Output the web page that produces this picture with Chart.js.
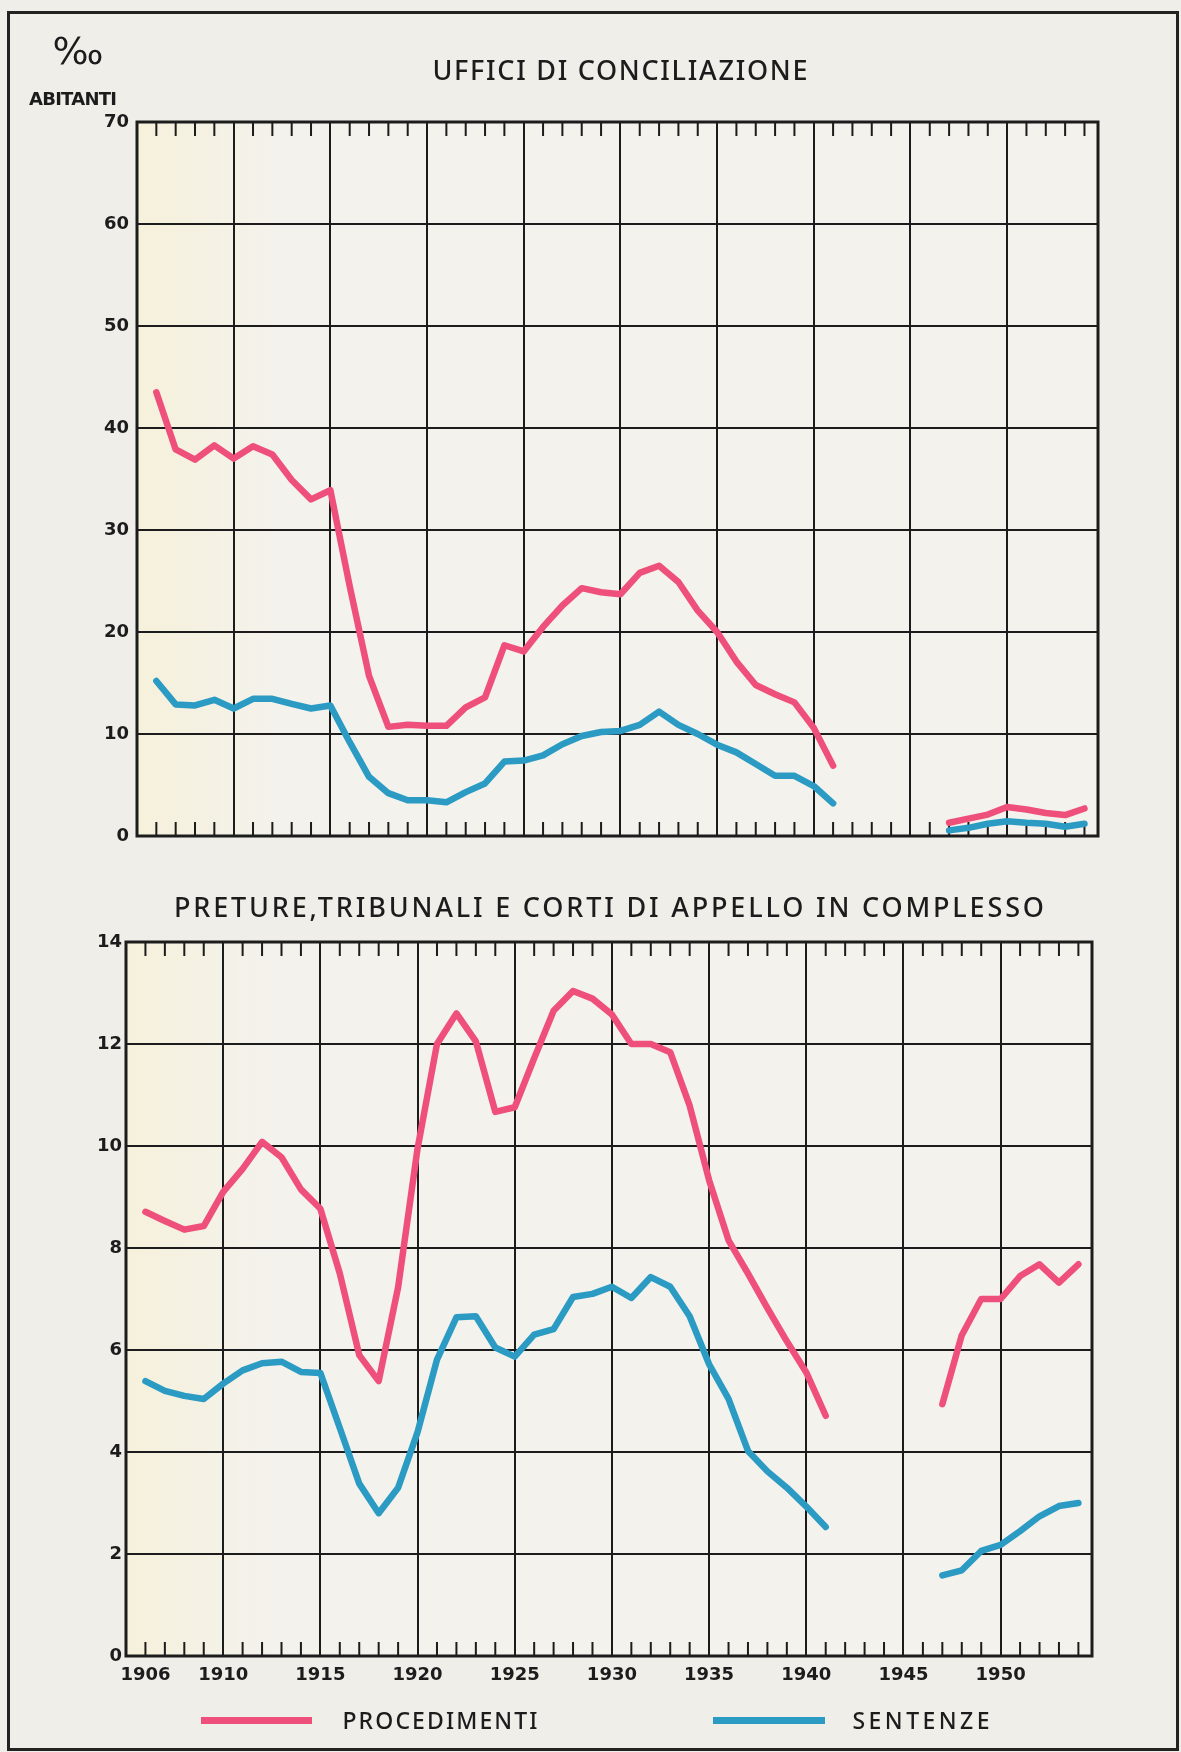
<!DOCTYPE html>
<html>
<head>
<meta charset="utf-8">
<script src="https://cdn.jsdelivr.net/npm/chart.js@4.4.0/dist/chart.umd.min.js"></script>
<style>
html,body{margin:0;padding:0;background:#efeee9;}
body{width:1181px;height:1752px;position:relative;overflow:hidden;font-family:"DejaVu Sans",sans-serif;color:#1c1c1c;}
.frame{position:absolute;left:7px;top:11px;width:1166px;height:1734px;border:3px solid #222;box-sizing:content-box;}
.abs{position:absolute;white-space:nowrap;line-height:1.2;}
.title{font-family:"Noto Sans",sans-serif;font-size:27px;font-weight:500;}
.leg{font-family:"Noto Sans",sans-serif;font-size:23px;font-weight:500;}
.sw{position:absolute;height:7px;}
canvas{position:absolute;left:0;}
</style>
</head>
<body>
<div class="frame"></div>
<canvas id="chartA" width="1181" height="880" style="top:0;width:1181px;height:880px"></canvas>
<canvas id="chartB" width="1181" height="872" style="top:880px;width:1181px;height:872px"></canvas>

<div class="abs" id="permille" style="font-size:38px;">&#8240;</div>
<div class="abs" id="abitanti" style="font-size:18px;font-weight:bold;">ABITANTI</div>
<div class="abs title" id="titleA">UFFICI DI CONCILIAZIONE</div>
<div class="abs title" id="titleB">PRETURE,TRIBUNALI E CORTI DI APPELLO IN COMPLESSO</div>

<div class="sw" id="swRed" style="left:201px;top:1717px;width:111px;"></div>
<div class="abs leg" id="legRed">PROCEDIMENTI</div>
<div class="sw" id="swBlue" style="left:713px;top:1717px;width:112px;"></div>
<div class="abs leg" id="legBlue">SENTENZE</div>

<script>
// ---------- DATA ----------
const years = [1906,1907,1908,1909,1910,1911,1912,1913,1914,1915,1916,1917,1918,1919,1920,
  1921,1922,1923,1924,1925,1926,1927,1928,1929,1930,1931,1932,1933,1934,1935,1936,1937,1938,1939,1940,
  1941,1942,1943,1944,1945,1946,1947,1948,1949,1950,1951,1952,1953,1954];

// Uffici di conciliazione (per mille abitanti)
const concProcedimenti = [43.5,37.9,36.9,38.3,37.0,38.2,37.4,34.9,33.0,33.9,24.5,15.7,10.7,10.9,10.8,
  10.8,12.6,13.6,18.7,18.1,20.5,22.6,24.3,23.9,23.7,25.8,26.5,24.9,22.1,20.0,17.1,14.8,13.9,13.1,10.6,
  6.9,null,null,null,null,null,1.3,1.7,2.1,2.85,2.6,2.25,2.05,2.7];
const concSentenze = [15.2,12.9,12.8,13.35,12.5,13.45,13.45,12.95,12.5,12.8,9.2,5.8,4.2,3.5,3.5,
  3.3,4.3,5.15,7.3,7.4,7.9,9.0,9.8,10.2,10.3,10.9,12.2,10.9,10.0,8.95,8.2,7.05,5.9,5.9,4.9,
  3.2,null,null,null,null,null,0.55,0.8,1.2,1.45,1.3,1.2,0.9,1.2];

// Preture, tribunali e corti di appello in complesso
const pretProcedimenti = [8.71,8.53,8.36,8.43,9.1,9.55,10.08,9.78,9.15,8.77,7.5,5.9,5.39,7.23,9.95,
  12.0,12.6,12.05,10.67,10.76,11.72,12.65,13.04,12.89,12.58,12.0,12.0,11.84,10.79,9.33,8.15,7.5,6.82,6.17,5.56,
  4.71,null,null,null,null,null,4.94,6.29,7.0,7.0,7.45,7.68,7.32,7.68];
const pretSentenze = [5.39,5.2,5.1,5.04,5.34,5.6,5.74,5.77,5.57,5.55,4.47,3.38,2.8,3.3,4.39,
  5.81,6.64,6.66,6.05,5.87,6.3,6.41,7.04,7.1,7.24,7.02,7.43,7.24,6.66,5.72,5.04,4.02,3.62,3.3,2.93,
  2.53,null,null,null,null,null,1.58,1.68,2.06,2.18,2.45,2.74,2.94,3.0];

const xTickLabels = [1906,1910,1915,1920,1925,1930,1935,1940,1945,1950];
const yTicksA = [0,10,20,30,40,50,60,70];
const yTicksB = [0,2,4,6,8,10,12,14];
const seriesNames = ['PROCEDIMENTI','SENTENZE'];

// ---------- STYLE ----------
const RED = '#ef4f7b';
const BLUE = '#2b9bc4';
const INK = '#1c1c1c';
Chart.defaults.font.family = '"DejaVu Sans", sans-serif';
Chart.defaults.color = INK;

const bgPlugin = {
  id: 'plotBg',
  beforeDraw(chart) {
    const {ctx, chartArea: a} = chart;
    const g = ctx.createLinearGradient(a.left, 0, a.left + 150, 0);
    g.addColorStop(0, '#f6f1db');
    g.addColorStop(1, '#f3f2ed');
    ctx.save();
    ctx.fillStyle = g;
    ctx.fillRect(a.left, a.top, a.right - a.left, a.bottom - a.top);
    ctx.restore();
  }
};
const framePlugin = {
  id: 'plotFrame',
  beforeDatasetsDraw(chart) {
    const {ctx, chartArea: a} = chart;
    const x = chart.scales.x;
    ctx.save();
    ctx.strokeStyle = INK;
    ctx.lineWidth = 2;
    ctx.beginPath();
    years.forEach(yr => {
      if (yr % 5 === 0) return;
      const px = x.getPixelForValue(yr);
      ctx.moveTo(px, a.top); ctx.lineTo(px, a.top + 14);
      ctx.moveTo(px, a.bottom); ctx.lineTo(px, a.bottom - 14);
    });
    ctx.stroke();
    ctx.lineWidth = 3;
    ctx.strokeRect(a.left, a.top, a.right - a.left, a.bottom - a.top);
    ctx.restore();
  }
};

function makeData(vals) { return years.map((yr, i) => ({x: yr, y: vals[i]})); }
function ds(label, vals, color) {
  return {label, data: makeData(vals), borderColor: color, backgroundColor: color,
    borderWidth: 6.5, pointRadius: 0, tension: 0, spanGaps: false,
    borderJoinStyle: 'round', borderCapStyle: 'round'};
}

function makeChart(id, p1, p2, yTicks, yMax, pad, yWidth, xHeight, showX, yPad) {
  return new Chart(document.getElementById(id), {
    type: 'line',
    data: {datasets: [ds(seriesNames[0], p1, RED), ds(seriesNames[1], p2, BLUE)]},
    options: {
      responsive: false, animation: false,
      layout: {padding: pad},
      plugins: {legend: {display: false}, title: {display: false}, tooltip: {enabled: false}},
      scales: {
        x: {
          type: 'linear', min: 1905, max: 1954.7,
          afterBuildTicks: s => { s.ticks = years.map(v => ({value: v})); },
          afterFit: s => { s.height = xHeight; },
          grid: {drawTicks: false, lineWidth: 2,
            color: c => (c.tick && c.tick.value % 5 === 0) ? INK : 'rgba(0,0,0,0)'},
          border: {display: false},
          ticks: {display: showX, autoSkip: false, maxRotation: 0, minRotation: 0, padding: 9,
            font: {size: 18, weight: 'bold'}, color: INK,
            callback: v => xTickLabels.includes(v) ? String(v) : ''}
        },
        y: {
          min: 0, max: yMax,
          afterBuildTicks: s => { s.ticks = yTicks.map(v => ({value: v})); },
          afterFit: s => { s.width = yWidth; },
          grid: {drawTicks: false, lineWidth: 2, color: INK},
          border: {display: false},
          ticks: {padding: yPad, font: {size: 18, weight: 'bold'}, color: INK}
        }
      }
    },
    plugins: [bgPlugin, framePlugin]
  });
}

// Chart A: plot area x 137..1098, y 122..836
makeChart('chartA', concProcedimenti, concSentenze, yTicksA, 70,
  {left: 77, right: 83, top: 122, bottom: 44}, 60, 0, false, 8);
// Chart B: plot area x 126..1092, y 942..1656 (canvas top 880)
makeChart('chartB', pretProcedimenti, pretSentenze, yTicksB, 14,
  {left: 66, right: 89, top: 62, bottom: 46}, 60, 50, true, 4);

// ---------- TEXT PLACEMENT ----------
function place(id, cx, cy, w) {
  const el = document.getElementById(id);
  el.style.left = '0px'; el.style.top = '0px';
  el.style.letterSpacing = '0px';
  const n = el.textContent.length;
  let ls = 0;
  if (w) {
    const w0 = el.getBoundingClientRect().width;
    ls = (w - w0) / Math.max(1, n - 1);
    el.style.letterSpacing = ls + 'px';
  }
  const r = el.getBoundingClientRect();
  el.style.left = (cx - (r.width - ls) / 2) + 'px';
  el.style.top = (cy - r.height / 2) + 'px';
}
document.getElementById('swRed').style.background = RED;
document.getElementById('swBlue').style.background = BLUE;
place('permille', 78, 52, 0);
place('abitanti', 73, 99, 88);
place('titleA', 620, 70, 375);
place('titleB', 609, 907, 870);
place('legRed', 440, 1721, 195);
place('legBlue', 921, 1721, 137);
</script>
</body>
</html>
